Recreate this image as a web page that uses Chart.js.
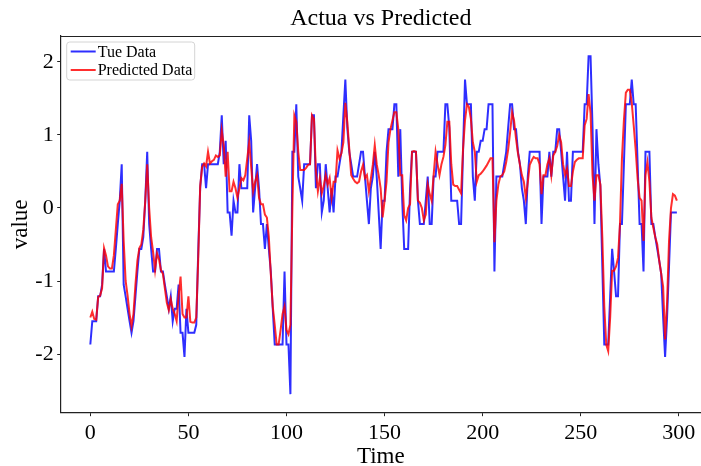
<!DOCTYPE html>
<html>
<head>
<meta charset="utf-8">
<script src="https://cdn.jsdelivr.net/npm/chart.js@4/dist/chart.umd.min.js"></script>
<style>
  body { margin: 0; background: #fff; overflow: hidden; }
  #wrap { width: 701px; height: 466px; }
</style>
</head>
<body>
<div id="wrap"><canvas id="myChart" width="701" height="466"></canvas></div>
<script>
// values, one per time step
var trueData = [
  -1.87, -1.55, -1.55, -1.55, -1.21, -1.21, -1.05, -0.56, -0.87, -0.87,
  -0.87, -0.87, -0.87, -0.56, -0.22, 0.1, 0.6, -1.05, -1.21, -1.38,
  -1.55, -1.71, -1.55, -1.21, -0.87, -0.56, -0.56, -0.4, 0.1, 0.77,
  -0.22, -0.56, -0.87, -0.87, -0.56, -0.56, -0.87, -0.87, -1.05, -1.21,
  -1.38, -1.21, -1.55, -1.38, -1.38, -1.05, -1.71, -1.71, -2.04, -1.38,
  -1.71, -1.71, -1.71, -1.71, -1.6, -0.6, 0.27, 0.6, 0.6, 0.27,
  0.6, 0.6, 0.6, 0.6, 0.6, 0.6, 0.77, 1.27, 0.6, 0.92,
  -0.06, -0.06, -0.38, 0.1, -0.06, -0.06, 0.6, 0.27, 0.27, 0.27,
  0.27, 1.27, 0.92, -0.06, 0.27, 0.6, 0.27, -0.22, -0.22, -0.56,
  -0.22, -0.56, -0.87, -1.38, -1.87, -1.87, -1.87, -1.87, -1.87, -0.87,
  -1.87, -1.87, -2.55, 0.77, 0.77, 1.42, 0.43, 0.27, 0.1, 0.6,
  0.6, 0.6, 0.6, 1.27, 1.27, 0.27, 0.6, 0.6, -0.06, 0.1,
  0.6, 0.27, -0.06, 0.27, -0.06, 0.43, 0.43, 0.6, 0.77, 1.27,
  1.76, 1.1, 0.77, 0.6, 0.43, 0.43, 0.43, 0.6, 0.77, 0.77,
  0.43, 0.1, -0.22, 0.27, 0.43, 0.77, 0.43, -0.06, -0.56, 0.1,
  0.1, 0.77, 1.08, 1.08, 1.08, 1.42, 1.42, 0.43, 1.08, 0.1,
  -0.56, -0.56, -0.56, 0.27, 0.77, 0.77, 0.77, 0.1, -0.22, -0.22,
  -0.22, 0.1, 0.43, -0.22, -0.22, 0.43, 0.43, 0.77, 0.77, 0.77,
  0.77, 1.42, 1.42, 1.1, 0.1, 0.1, 0.1, 0.1, -0.22, -0.22,
  0.77, 1.76, 1.42, 1.42, 1.42, 0.43, 0.1, 0.77, 0.77, 0.92,
  0.92, 1.08, 1.08, 1.42, 1.42, 1.42, -0.87, 0.43, 0.43, 0.43,
  0.43, 0.6, 0.77, 1.1, 1.42, 1.42, 1.08, 1.08, 0.77, 0.6,
  0.27, 0.1, -0.22, 0.43, 0.77, 0.77, 0.77, 0.77, 0.77, 0.77,
  -0.22, 0.43, 0.43, 0.43, 0.77, 0.43, 0.77, 0.77, 1.08, 1.08,
  0.77, 0.43, 0.1, 0.77, 0.1, 0.1, 0.77, 0.77, 0.77, 0.77,
  0.77, 0.77, 1.42, 1.42, 2.08, 2.08, 1.1, -0.22, 1.08, 0.6,
  0.3, -0.8, -1.87, -1.87, -1.87, -1.21, -0.56, -0.87, -1.21, -1.21,
  -0.22, -0.22, 0.6, 1.42, 1.42, 1.42, 1.76, 1.42, 1.42, 0.6,
  -0.22, -0.22, -0.87, 0.77, 0.77, 0.77, -0.22, -0.22, -0.4, -0.56,
  -0.72, -0.9, -1.5, -2.04, -1.5, -0.8, -0.06, -0.06, -0.06, -0.06
];

var predData = [
  -1.5, -1.42, -1.52, -1.53, -1.22, -1.2, -1.1, -0.55, -0.65, -0.8,
  -0.83, -0.83, -0.65, -0.3, 0.05, 0.1, 0.33, -0.45, -1.0, -1.2,
  -1.45, -1.62, -1.45, -1.05, -0.72, -0.55, -0.5, -0.3, 0.1, 0.6,
  0.0, -0.4, -0.6, -0.85, -0.62, -0.7, -0.85, -0.9, -1.1, -1.3,
  -1.4, -1.25, -1.38, -1.45, -1.55, -1.2, -0.94, -1.45, -1.5, -1.5,
  -1.21, -1.56, -1.57, -1.57, -1.5, -0.7, 0.3, 0.56, 0.61, 0.57,
  0.77, 0.61, 0.64, 0.66, 0.72, 0.7, 0.72, 1.06, 0.86, 0.43,
  0.77, 0.23, 0.23, 0.36, 0.27, 0.14, 0.27, 0.41, 0.38, 0.45,
  0.68, 0.9, 0.56, 0.23, 0.36, 0.45, 0.14, 0.05, 0.05, -0.09,
  -0.13, -0.4, -0.9, -1.35, -1.6, -1.87, -1.87, -1.67, -1.45, -1.35,
  -1.67, -1.73, -1.6, 0.0, 1.27, 1.18, 0.77, 0.52, 0.52, 0.52,
  0.55, 0.59, 0.6, 1.27, 1.22, 0.5, 0.23, 0.41, 0.2, 0.3,
  0.45, 0.32, 0.41, 0.14, 0.36, 0.36, 0.79, 0.68, 0.75, 0.9,
  1.44, 1.18, 0.81, 0.45, 0.4, 0.36, 0.34, 0.36, 0.5, 0.59,
  0.41, 0.45, 0.23, 0.4, 0.59, 0.86, 0.6, 0.45, 0.27, -0.13,
  0.1, 0.36, 0.9, 1.08, 1.2, 1.31, 1.31, 1.08, 0.45, 0.45,
  -0.1, -0.17, 0.0, 0.05, 0.77, 0.78, 0.77, 0.1, 0.07, 0.0,
  -0.17, -0.09, 0.32, 0.19, 0.1, 0.45, 0.77, 0.6, 0.45, 0.6,
  0.7, 0.86, 1.18, 1.18, 0.6, 0.32, 0.3, 0.3, 0.25, 0.2,
  0.81, 1.2, 1.42, 1.38, 1.22, 0.9, 0.77, 0.36, 0.45, 0.47,
  0.5, 0.54, 0.58, 0.63, 0.68, 0.68, -0.47, 0.1, 0.32, 0.43,
  0.45, 0.5, 0.63, 0.8, 1.04, 1.31, 1.2, 0.95, 0.75, 0.59,
  0.45, 0.36, 0.14, 0.35, 0.59, 0.65, 0.7, 0.68, 0.68, 0.6,
  0.19, 0.45, 0.45, 0.6, 0.68, 0.45, 0.72, 0.77, 0.85, 1.0,
  0.9, 0.6, 0.45, 0.54, 0.3, 0.3, 0.5, 0.63, 0.66, 0.68,
  0.68, 0.68, 1.13, 1.22, 1.56, 1.3, 0.45, 0.1, 0.45, 0.45,
  0.32, -0.4, -1.35, -1.87, -1.96, -1.5, -0.86, -0.86, -0.8, -0.68,
  -0.22, 0.68, 1.2, 1.58, 1.62, 1.62, 1.44, 1.13, 0.8, 0.4,
  0.14, 0.1, -0.45, 0.45, 0.63, 0.36, -0.13, -0.27, -0.4, -0.5,
  -0.72, -0.9, -1.08, -1.8, -1.3, -0.45, 0.0, 0.19, 0.17, 0.1
];

var time = trueData.map(function (v, i) { return i; });
var xTicks = [0, 50, 100, 150, 200, 250, 300];
var yTicks = [-2, -1, 0, 1, 2];

var serif = "'Liberation Serif', 'Times New Roman', serif";
var axisColor = "#222";

function pts(arr) {
    return arr.map(function (v, i) { return { x: time[i], y: v }; });
}

// matplotlib style legend in the upper left corner of the plot
var boxLegend = {
    id: "boxLegend",
    afterDraw: function (chart) {
        var ctx = chart.ctx;
        var a = chart.chartArea;
        var x = a.left + 6, y = a.top + 6, w = 128, h = 38;
        ctx.save();
        ctx.beginPath();
        ctx.roundRect(x, y, w, h, 3);
        ctx.fillStyle = "rgba(255,255,255,0.8)";
        ctx.fill();
        ctx.strokeStyle = "#d4d4d4";
        ctx.lineWidth = 1;
        ctx.stroke();
        ctx.font = "16px " + serif;
        ctx.textBaseline = "middle";
        chart.data.datasets.forEach(function (ds, i) {
            var ly = y + 9.5 + i * 18.5;
            ctx.beginPath();
            ctx.moveTo(x + 4, ly);
            ctx.lineTo(x + 29, ly);
            ctx.strokeStyle = ds.borderColor;
            ctx.lineWidth = 2;
            ctx.stroke();
            ctx.fillStyle = "#000";
            ctx.fillText(ds.label, x + 31, ly + 1);
        });
        ctx.restore();
    }
};

// top spine (right spine is cut off in the reference)
var topSpine = {
    id: "topSpine",
    afterDraw: function (chart) {
        var ctx = chart.ctx;
        var a = chart.chartArea;
        ctx.save();
        ctx.beginPath();
        ctx.moveTo(a.left, a.top + 0.5);
        ctx.lineTo(a.right, a.top + 0.5);
        ctx.strokeStyle = axisColor;
        ctx.lineWidth = 1.2;
        ctx.stroke();
        ctx.restore();
    }
};

var ctx = document.getElementById("myChart");
var chart = new Chart(ctx, {
    type: "line",
    data: {
        datasets: [{
            label: "Tue Data",
            data: pts(trueData),
            borderColor: "rgba(0,0,255,0.82)",
            borderWidth: 2,
            pointRadius: 0,
            tension: 0,
            order: 1
        }, {
            label: "Predicted Data",
            data: pts(predData),
            borderColor: "rgba(255,0,0,0.82)",
            borderWidth: 2,
            pointRadius: 0,
            tension: 0,
            order: 0
        }]
    },
    options: {
        responsive: false,
        animation: false,
        devicePixelRatio: 1,
        layout: { padding: 0 },
        plugins: {
            legend: { display: false },
            tooltip: { enabled: false },
            title: {
                display: true,
                text: "Actua vs Predicted",
                color: "#000",
                fullSize: false,
                font: { family: serif, size: 24, weight: "normal", lineHeight: 1.2 },
                padding: { top: 4, bottom: 3.2 }
            }
        },
        scales: {
            x: {
                type: "linear",
                min: -15.1,
                max: 311.3,
                afterBuildTicks: function (s) { s.ticks = xTicks.map(function (v) { return { value: v }; }); },
                afterFit: function (s) { s.height = 53.3; },
                grid: { drawOnChartArea: false, drawTicks: true, tickLength: 3.5, tickColor: axisColor },
                border: { display: true, color: axisColor, width: 1.2 },
                ticks: {
                    color: "#000",
                    padding: 3.5,
                    maxRotation: 0,
                    font: { family: serif, size: 22 },
                    callback: function (v) { return String(v); }
                },
                title: {
                    display: true,
                    text: "Time",
                    color: "#000",
                    font: { family: serif, size: 23, lineHeight: 1 },
                    padding: { top: 0, bottom: -2 }
                }
            },
            y: {
                min: -2.804,
                max: 2.356,
                afterBuildTicks: function (s) { s.ticks = yTicks.map(function (v) { return { value: v }; }); },
                afterFit: function (s) { s.width = 60.7; },
                grid: { drawOnChartArea: false, drawTicks: true, tickLength: 3.5, tickColor: axisColor },
                border: { display: true, color: axisColor, width: 1.2 },
                ticks: {
                    color: "#000",
                    padding: 3.5,
                    font: { family: serif, size: 22 },
                    callback: function (v) { return String(v); }
                },
                title: {
                    display: true,
                    text: "value",
                    color: "#000",
                    font: { family: serif, size: 23, lineHeight: 1 },
                    padding: { top: 9.5, bottom: 0 }
                }
            }
        }
    },
    plugins: [boxLegend, topSpine]
});
</script>
</body>
</html>
